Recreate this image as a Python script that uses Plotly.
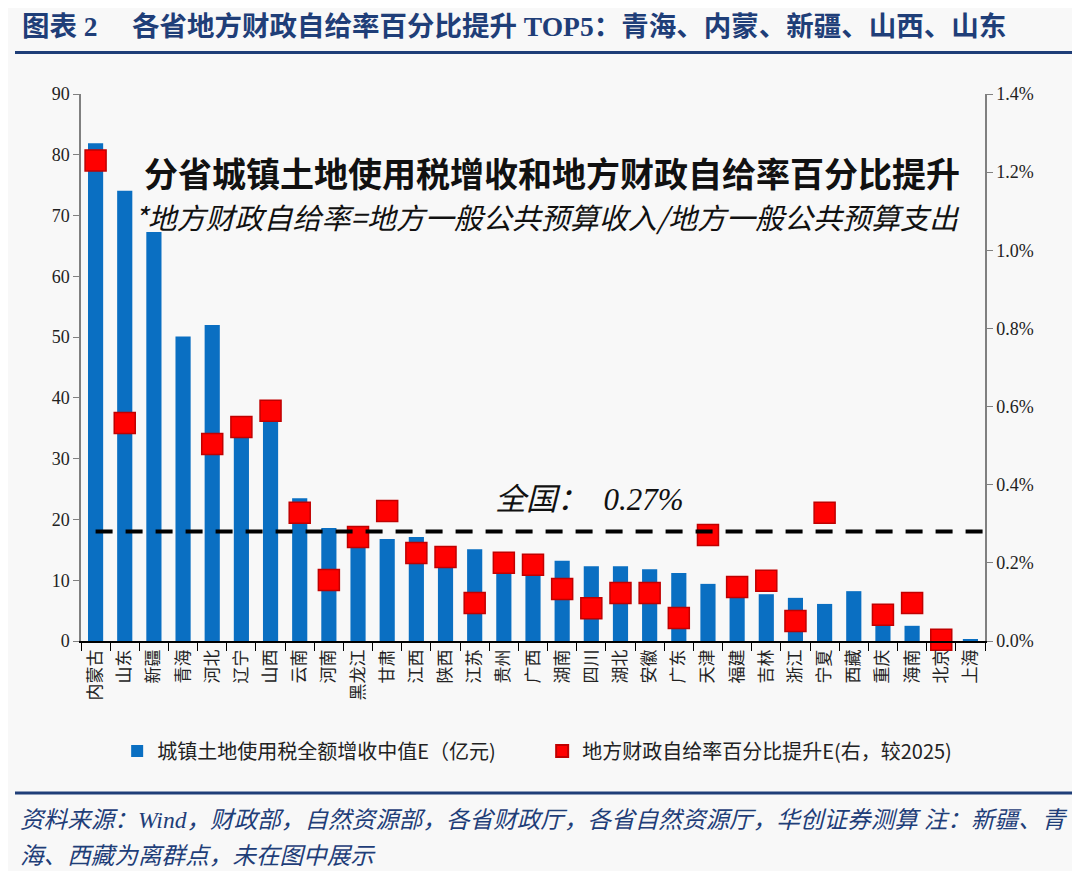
import plotly.graph_objects as go

# provinces, sorted as in the source chart
provinces = ['内蒙古', '山东', '新疆', '青海', '河北', '辽宁', '山西', '云南', '河南', '黑龙江',
             '甘肃', '江西', '陕西', '江苏', '贵州', '广西', '湖南', '四川', '湖北', '安徽',
             '广东', '天津', '福建', '吉林', '浙江', '宁夏', '西藏', '重庆', '海南', '北京', '上海']

# 城镇土地使用税全额增收中值E (亿元), left axis
taxIncrease = [81.9, 74.1, 67.3, 50.1, 52.0, 35.0, 36.8, 23.5, 18.6, 17.6,
               16.8, 17.1, 14.6, 15.1, 12.8, 12.4, 13.2, 12.3, 12.3, 11.8,
               11.2, 9.4, 8.8, 7.7, 7.1, 6.1, 8.2, 4.4, 2.5, 0.4, 0.3]

# 地方财政自给率百分比提升E (%), right axis
selfSufficiencyUp = [1.23, 0.558, None, None, 0.504, 0.548, 0.589, 0.328, 0.156, 0.266,
                     0.333, 0.225, 0.215, 0.097, 0.200, 0.195, 0.133, 0.084, 0.123, 0.123,
                     0.059, 0.271, 0.138, 0.154, 0.051, 0.328, None, 0.067, 0.097, 0.003, -0.005]

nationalLevel = 0.28  # dashed line, 全国 0.27%

leftTicks = list(range(0, 91, 10))
rightTicks = [0.0, 0.2, 0.4, 0.6, 0.8, 1.0, 1.2, 1.4]

navy = '#1F3E78'
cjk = 'Noto Sans CJK SC'
serif = 'Liberation Serif, Noto Sans CJK SC'

fig = go.Figure()

fig.add_trace(go.Bar(
    x=provinces, y=taxIncrease, name='城镇土地使用税全额增收中值E（亿元)',
    marker=dict(color='#0A6FC2', line=dict(width=0)),
    yaxis='y'))

fig.add_trace(go.Scatter(
    x=provinces, y=selfSufficiencyUp, name='地方财政自给率百分比提升E(右，较2025)',
    mode='markers', yaxis='y2', cliponaxis=False,
    marker=dict(symbol='square', size=21, color='#FF0000', line=dict(color='#C00000', width=1.5))))

# national dashed line
fig.add_shape(type='line', xref='x', yref='y2', x0=0, x1=30.5,
              y0=nationalLevel, y1=nationalLevel,
              line=dict(color='black', width=4, dash='17px,13px'))

# header / footer rules
fig.add_shape(type='line', xref='paper', yref='paper', x0=-0.073, x1=1.097, y0=1.076, y1=1.076,
              line=dict(color=navy, width=3))
fig.add_shape(type='line', xref='paper', yref='paper', x0=-0.073, x1=1.097, y0=-0.278, y1=-0.278,
              line=dict(color=navy, width=3))

fig.add_annotation(xref='paper', yref='paper', x=-0.0675, y=1.123, xanchor='left', yanchor='middle',
                   showarrow=False,
                   text='<b>图表 2     各省地方财政自给率百分比提升 TOP5：青海、内蒙、新疆、山西、山东</b>',
                   font=dict(family=serif, size=27.5, color=navy))

fig.add_annotation(xref='paper', yref='paper', x=0.521, y=0.857, xanchor='center', yanchor='middle',
                   showarrow=False, text='<b>分省城镇土地使用税增收和地方财政自给率百分比提升</b>',
                   font=dict(family=cjk, size=34, color='#111111'))
fig.add_annotation(xref='paper', yref='paper', x=0.516, y=0.777, xanchor='center', yanchor='middle',
                   showarrow=False, text='<i>*地方财政自给率=地方一般公共预算收入/地方一般公共预算支出</i>',
                   font=dict(family=cjk, size=29, color='#111111'))
fig.add_annotation(xref='paper', yref='paper', x=0.563, y=0.258, xanchor='center', yanchor='middle',
                   showarrow=False, text='<i>全国：  0.27%</i>',
                   font=dict(family=serif, size=31, color='#111111'))

fig.add_annotation(xref='paper', yref='paper', x=-0.0697, y=-0.327, xanchor='left', yanchor='middle',
                   showarrow=False,
                   text='<i>资料来源：Wind，财政部，自然资源部，各省财政厅，各省自然资源厅，华创证券测算 注：新疆、青</i>',
                   font=dict(family=serif, size=23.6, color=navy))
fig.add_annotation(xref='paper', yref='paper', x=-0.0697, y=-0.393, xanchor='left', yanchor='middle',
                   showarrow=False, text='<i>海、西藏为离群点，未在图中展示</i>',
                   font=dict(family=serif, size=23.6, color=navy))

# the page body adds an 8px offset, so the figure is 8px smaller than the window
fig.update_layout(
    width=1072, height=863,
    margin=dict(l=73, r=95, t=86, b=230),
    paper_bgcolor='#F8F8F8', plot_bgcolor='#F8F8F8',
    bargap=0.48,
    showlegend=True,
    legend=dict(orientation='h', x=0.040, y=-0.201, xanchor='left', yanchor='middle',
                font=dict(family=cjk, size=20, color='#222222'), itemsizing='constant',
                entrywidth=380, entrywidthmode='pixels', bgcolor='rgba(0,0,0,0)'),
    xaxis=dict(type='category', showline=True, linecolor='black', linewidth=1.5,
               ticks='outside', tickson='boundaries', ticklen=8, tickcolor='black',
               tickangle=-90, tickfont=dict(family=cjk, size=17, color='#222222'),
               showgrid=False, range=[-0.5, 30.5]),
    yaxis=dict(range=[0, 90], tickvals=leftTicks, showline=True, linecolor='#808080', linewidth=1.5,
               ticks='outside', ticklen=6, tickcolor='#808080', showgrid=False, zeroline=False,
               tickfont=dict(family=serif, size=18, color='#222222')),
    yaxis2=dict(range=[0, 1.4], tickvals=rightTicks, ticktext=['%.1f%%' % v for v in rightTicks],
                overlaying='y', side='right', showline=True, linecolor='#808080', linewidth=1.5,
                ticks='outside', ticklen=6, tickcolor='#808080', showgrid=False, zeroline=False,
                tickfont=dict(family=serif, size=18, color='#222222')),
)

fig.write_html("out.html")
